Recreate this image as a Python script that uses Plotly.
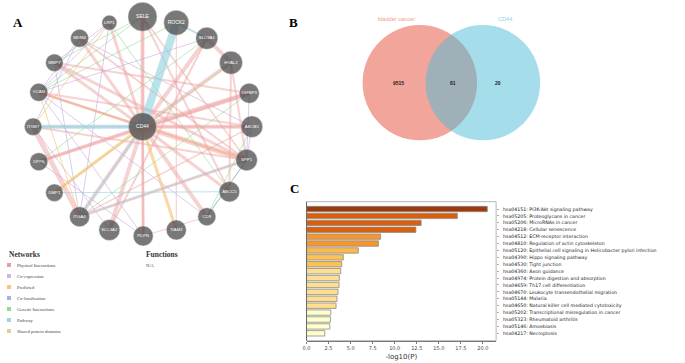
import plotly.graph_objects as go

# ---------------- data ----------------
genes = ["SELE", "ROCK2", "LRP1", "MDM4", "SLC9A1", "MMP7", "HYAL2", "VCAN", "IGFBP3",
         "ITGB7", "CD44", "ABCB5", "DPP6", "SPP1", "DMP1", "ABCC5", "ITGA4", "CD9",
         "SLC3A2", "PDPN", "TIAM2"]
gene_score = [29, 25, 15, 18, 22, 17.5, 23, 18, 20, 17.5, 28, 21.5, 18, 21.5, 17.5, 20.5,
              20, 18, 21, 20, 20]

# (gene a, gene b, network type, weight)
edges = [
    ("CD44", "SELE", "Physical Interactions", 4), ("CD44", "LRP1", "Physical Interactions", 3),
    ("CD44", "MDM4", "Physical Interactions", 3), ("CD44", "MMP7", "Physical Interactions", 3),
    ("CD44", "VCAN", "Physical Interactions", 2.5), ("CD44", "DPP6", "Physical Interactions", 3),
    ("CD44", "ITGA4", "Physical Interactions", 4), ("CD44", "SLC3A2", "Physical Interactions", 4),
    ("CD44", "PDPN", "Physical Interactions", 3), ("CD44", "CD9", "Physical Interactions", 4),
    ("CD44", "ABCC5", "Physical Interactions", 3), ("CD44", "SPP1", "Physical Interactions", 5),
    ("CD44", "ABCB5", "Physical Interactions", 4), ("CD44", "IGFBP3", "Physical Interactions", 5),
    ("CD44", "HYAL2", "Physical Interactions", 4), ("CD44", "SLC9A1", "Physical Interactions", 4),
    ("SELE", "PDPN", "Physical Interactions", 2), ("ITGB7", "ITGA4", "Physical Interactions", 5),
    ("SLC9A1", "HYAL2", "Physical Interactions", 4), ("HYAL2", "ABCC5", "Physical Interactions", 2),
    ("HYAL2", "SPP1", "Physical Interactions", 2), ("ITGB7", "SPP1", "Physical Interactions", 2),
    ("ITGB7", "ABCB5", "Physical Interactions", 2), ("DPP6", "IGFBP3", "Physical Interactions", 3),
    ("ITGA4", "SPP1", "Physical Interactions", 3), ("ITGA4", "ABCB5", "Physical Interactions", 1.5),
    ("ROCK2", "TIAM2", "Physical Interactions", 1.2), ("PDPN", "CD9", "Physical Interactions", 1.2),
    ("MMP7", "SPP1", "Physical Interactions", 3), ("MDM4", "SPP1", "Physical Interactions", 2),
    ("VCAN", "SPP1", "Physical Interactions", 2), ("VCAN", "ABCB5", "Physical Interactions", 2),
    ("SELE", "ABCC5", "Physical Interactions", 2), ("SLC9A1", "SLC3A2", "Physical Interactions", 2),
    ("MMP7", "IGFBP3", "Physical Interactions", 2), ("SELE", "SPP1", "Physical Interactions", 1.5),
    ("LRP1", "VCAN", "Co-expression", 1), ("LRP1", "MMP7", "Co-expression", 1),
    ("MDM4", "VCAN", "Co-expression", 1), ("MDM4", "ITGB7", "Co-expression", 1),
    ("MMP7", "ITGA4", "Co-expression", 1), ("VCAN", "PDPN", "Co-expression", 1),
    ("VCAN", "CD9", "Co-expression", 1), ("ITGB7", "SLC3A2", "Co-expression", 1),
    ("DPP6", "PDPN", "Co-expression", 1), ("LRP1", "ITGA4", "Co-expression", 1),
    ("MDM4", "ABCB5", "Co-expression", 1), ("SLC9A1", "VCAN", "Co-expression", 1),
    ("IGFBP3", "SPP1", "Co-expression", 1), ("ABCB5", "SPP1", "Co-expression", 1),
    ("SELE", "MMP7", "Genetic Interactions", 1), ("SELE", "VCAN", "Genetic Interactions", 1),
    ("ROCK2", "VCAN", "Genetic Interactions", 1), ("SLC9A1", "DPP6", "Genetic Interactions", 1),
    ("IGFBP3", "ITGA4", "Genetic Interactions", 1), ("ABCB5", "CD9", "Genetic Interactions", 1),
    ("SPP1", "CD9", "Genetic Interactions", 1), ("LRP1", "ABCC5", "Genetic Interactions", 1),
    ("HYAL2", "DMP1", "Genetic Interactions", 1),
    ("CD44", "TIAM2", "Predicted", 3), ("CD44", "DMP1", "Predicted", 3),
    ("LRP1", "ITGB7", "Predicted", 1), ("VCAN", "SPP1", "Predicted", 1),
    ("VCAN", "ITGA4", "Predicted", 1),
    ("CD44", "ROCK2", "Pathway", 8), ("CD44", "ITGB7", "Pathway", 4),
    ("ITGA4", "SPP1", "Pathway", 1.2), ("ITGA4", "CD44", "Pathway", 1.5),
    ("SLC9A1", "ROCK2", "Pathway", 2), ("DMP1", "ABCC5", "Pathway", 1),
    ("SPP1", "CD9", "Co-localization", 1),
]

network_types = ["Physical Interactions", "Co-expression", "Predicted", "Co-localization",
                 "Genetic Interactions", "Pathway", "Shared protein domains"]

venn_sets = ["bladder cancer", "CD44"]
venn_counts = [9515, 81, 20]   # only set 1, both, only set 2

kegg_terms = ["hsa04151: PI3K-Akt signaling pathway", "hsa05205: Proteoglycans in cancer",
              "hsa05206: MicroRNAs in cancer", "hsa04218: Cellular senescence",
              "hsa04512: ECM-receptor interaction", "hsa04810: Regulation of actin cytoskeleton",
              "hsa05120: Epithelial cell signaling in Helicobacter pylori infection",
              "hsa04390: Hippo signaling pathway", "hsa04530: Tight junction",
              "hsa04360: Axon guidance", "hsa04974: Protein digestion and absorption",
              "hsa04659: Th17 cell differentiation", "hsa04670: Leukocyte transendothelial migration",
              "hsa05144: Malaria", "hsa04650: Natural killer cell mediated cytotoxicity",
              "hsa05202: Transcriptional misregulation in cancer", "hsa05323: Rheumatoid arthritis",
              "hsa05146: Amoebiasis", "hsa04217: Necroptosis"]
kegg_logp = [20.5, 17.1, 13.0, 12.4, 8.4, 8.15, 5.87, 4.17, 3.99, 3.88, 3.72, 3.69, 3.57,
             3.46, 3.35, 2.75, 2.71, 2.64, 2.07]
x_ticks = [0, 2.5, 5, 7.5, 10, 12.5, 15, 17.5, 20]
grid_at = [2, 4, 6, 10, 20]

# ---------------- layout helpers (pixel canvas) ----------------
node_pos = {
    "SELE": (139.3, 16.7), "ROCK2": (173.3, 22.7), "LRP1": (106, 22.7), "MDM4": (76, 38.3),
    "SLC9A1": (204, 38.3), "MMP7": (50.7, 62.7), "HYAL2": (228.3, 62.7), "VCAN": (35, 92.3),
    "IGFBP3": (246.7, 93.3), "ITGB7": (29.3, 126.7), "CD44": (139.3, 126.7),
    "ABCB5": (249.3, 126.7), "DPP6": (35, 161.7), "SPP1": (244, 160), "DMP1": (50.7, 192.7),
    "ABCC5": (226.7, 191.7), "ITGA4": (76, 216.7), "CD9": (204, 216.7), "SLC3A2": (106, 230),
    "PDPN": (140, 236), "TIAM2": (173.3, 230),
}
edge_color = {
    "Physical Interactions": "rgba(238,160,160,0.48)",
    "Co-expression": "rgba(200,170,222,0.60)",
    "Predicted": "rgba(245,190,110,0.60)",
    "Co-localization": "rgba(140,160,220,0.60)",
    "Genetic Interactions": "rgba(140,215,140,0.55)",
    "Pathway": "rgba(150,212,226,0.65)",
    "Shared protein domains": "rgba(215,205,140,0.6)",
}
legend_color = {
    "Physical Interactions": "#ef9c9c", "Co-expression": "#d2b4e2", "Predicted": "#f8c184",
    "Co-localization": "#a3b3e3", "Genetic Interactions": "#8fdc8f", "Pathway": "#97d9e6",
    "Shared protein domains": "#dcd296",
}

fig = go.Figure()

# edges
for a, b, t, w in edges:
    (x0, y0), (x1, y1) = node_pos[a], node_pos[b]
    fig.add_trace(go.Scatter(x=[x0, x1], y=[y0, y1], mode="lines",
                             line=dict(color=edge_color[t], width=w),
                             hoverinfo="skip", showlegend=False, xaxis="x", yaxis="y"))
# nodes
fig.add_trace(go.Scatter(
    x=[node_pos[g][0] for g in genes], y=[node_pos[g][1] for g in genes],
    mode="markers+text", text=genes, textposition="middle center",
    textfont=dict(family="Liberation Sans, Arial", size=[5 if s > 24 else 4.3 for s in gene_score],
                  color="white"),
    marker=dict(size=gene_score, color="#404040", line=dict(color="#d8d8d8", width=0.5)),
    hoverinfo="text", showlegend=False, xaxis="x", yaxis="y"))

# legend of panel A
for i, t in enumerate(network_types):
    yy = 265 + i * 11
    fig.add_trace(go.Scatter(x=[5], y=[yy], mode="markers",
                             marker=dict(symbol="square", size=4, color=legend_color[t]),
                             hoverinfo="skip", showlegend=False, xaxis="x", yaxis="y"))
annotations = []
for i, t in enumerate(network_types):
    annotations.append(dict(x=11.5, y=265 + i * 11, xref="x", yref="y", text=t, showarrow=False,
                            xanchor="left", yanchor="middle",
                            font=dict(family="Liberation Serif", size=4.6, color="#444")))
annotations += [
    dict(x=3, y=254, xref="x", yref="y", text="<b>Networks</b>", showarrow=False, xanchor="left",
         yanchor="middle", font=dict(family="Liberation Serif", size=7.5, color="#333")),
    dict(x=141, y=254, xref="x", yref="y", text="<b>Functions</b>", showarrow=False, xanchor="left",
         yanchor="middle", font=dict(family="Liberation Serif", size=7.5, color="#333")),
    dict(x=141, y=265, xref="x", yref="y", text="N/A", showarrow=False, xanchor="left",
         yanchor="middle", font=dict(family="Liberation Serif", size=4.6, color="#444")),
]
# panel letters
for letter, (lx, ly) in {"A": (14, 22), "B": (291, 22), "C": (292, 188)}.items():
    annotations.append(dict(x=lx, y=ly, xref="x", yref="y", text="<b>%s</b>" % letter,
                            showarrow=False, xanchor="center", yanchor="middle",
                            font=dict(family="Liberation Serif", size=13, color="black")))

# Venn diagram
shapes = []
venn_r = 57.6
venn_cx = [418.3, 481.7]
venn_cy = 82.7
venn_fill = ["rgba(230,75,53,0.5)", "rgba(77,187,213,0.5)"]
for cx, fc in zip(venn_cx, venn_fill):
    shapes.append(dict(type="circle", xref="x", yref="y", x0=cx - venn_r, x1=cx + venn_r,
                       y0=venn_cy - venn_r, y1=venn_cy + venn_r, fillcolor=fc,
                       line=dict(width=0), layer="below"))
annotations += [
    dict(x=395, y=19, xref="x", yref="y", text=venn_sets[0], showarrow=False,
         font=dict(family="Liberation Sans, Arial", size=5.6, color="#f0998c")),
    dict(x=503.7, y=19, xref="x", yref="y", text=venn_sets[1], showarrow=False,
         font=dict(family="Liberation Sans, Arial", size=5.6, color="#8fd3e3")),
]
for xx, c in zip([396.7, 451.7, 496.7], venn_counts):
    annotations.append(dict(x=xx, y=venn_cy, xref="x", yref="y", text="<b>%d</b>" % c,
                            showarrow=False,
                            font=dict(family="Liberation Sans, Arial", size=5, color="#222")))

# ---------------- bar chart (panel C) ----------------
bar_colors = ["#9e3a09", "#d95f0e", "#d95f0e", "#d95f0e", "#f7962a", "#f7962a", "#fdb94b",
              "#fec252", "#fec252", "#fedf90", "#fedf90", "#fedf90", "#fedf90", "#fedf90",
              "#fedf90", "#ffffcc", "#ffffcc", "#ffffcc", "#ffffcc"]
fig.add_trace(go.Bar(y=kegg_terms, x=kegg_logp, orientation="h", width=0.78,
                     marker=dict(color=bar_colors, line=dict(color="#8c8c8c", width=0.8)),
                     xaxis="x2", yaxis="y2", showlegend=False))
for g in grid_at:
    shapes.append(dict(type="line", xref="x2", yref="y2 domain", x0=g, x1=g, y0=0, y1=1,
                       line=dict(color="#d2d2d2", width=1.3), layer="below"))
shapes.append(dict(type="rect", xref="x2 domain", yref="y2 domain", x0=0, x1=1, y0=0, y1=1,
                   line=dict(color="#b5b5b5", width=1), layer="above"))
shapes.append(dict(type="line", xref="x2 domain", yref="y2 domain", x0=0, x1=0, y0=0, y1=1,
                   line=dict(color="#6a6a6a", width=1), layer="above"))

W, H = 685, 363
fig.update_layout(
    width=W, height=H, margin=dict(l=0, r=0, t=0, b=0),
    paper_bgcolor="white", plot_bgcolor="white", bargap=0.2,
    xaxis=dict(domain=[0, 1], range=[0, W], visible=False, fixedrange=True),
    yaxis=dict(domain=[0, 1], range=[H, 0], visible=False, fixedrange=True),
    xaxis2=dict(domain=[304.3 / W, 495 / W], range=[0, 21.5], anchor="y2",
                tickvals=x_ticks, ticktext=["%.1f" % v for v in x_ticks],
                ticks="outside", ticklen=2.5, tickcolor="#555", tickwidth=0.8,
                showgrid=False, zeroline=False, showline=True, linecolor="#6a6a6a", linewidth=1,
                tickfont=dict(family="DejaVu Sans", size=5, color="#444"),
                title=dict(text="-log10(P)", standoff=3,
                           font=dict(family="DejaVu Sans", size=7, color="#333"))),
    yaxis2=dict(domain=[1 - 340.7 / H, 1 - 201.7 / H], anchor="x2", side="right",
                type="category", categoryorder="array", categoryarray=kegg_terms,
                range=[19.07, -1.06], showgrid=False, zeroline=False,
                ticks="outside", ticklen=2, tickcolor="#777", tickwidth=0.6,
                ticklabelstandoff=3,
                tickfont=dict(family="DejaVu Sans", size=4.7, color="#222")),
    shapes=shapes, annotations=annotations,
)
fig.write_html("out.html", config={"staticPlot": True, "displayModeBar": False},
               post_script="document.body.style.margin='0';document.body.style.padding='0';"
                           "document.body.style.overflow='hidden';")
